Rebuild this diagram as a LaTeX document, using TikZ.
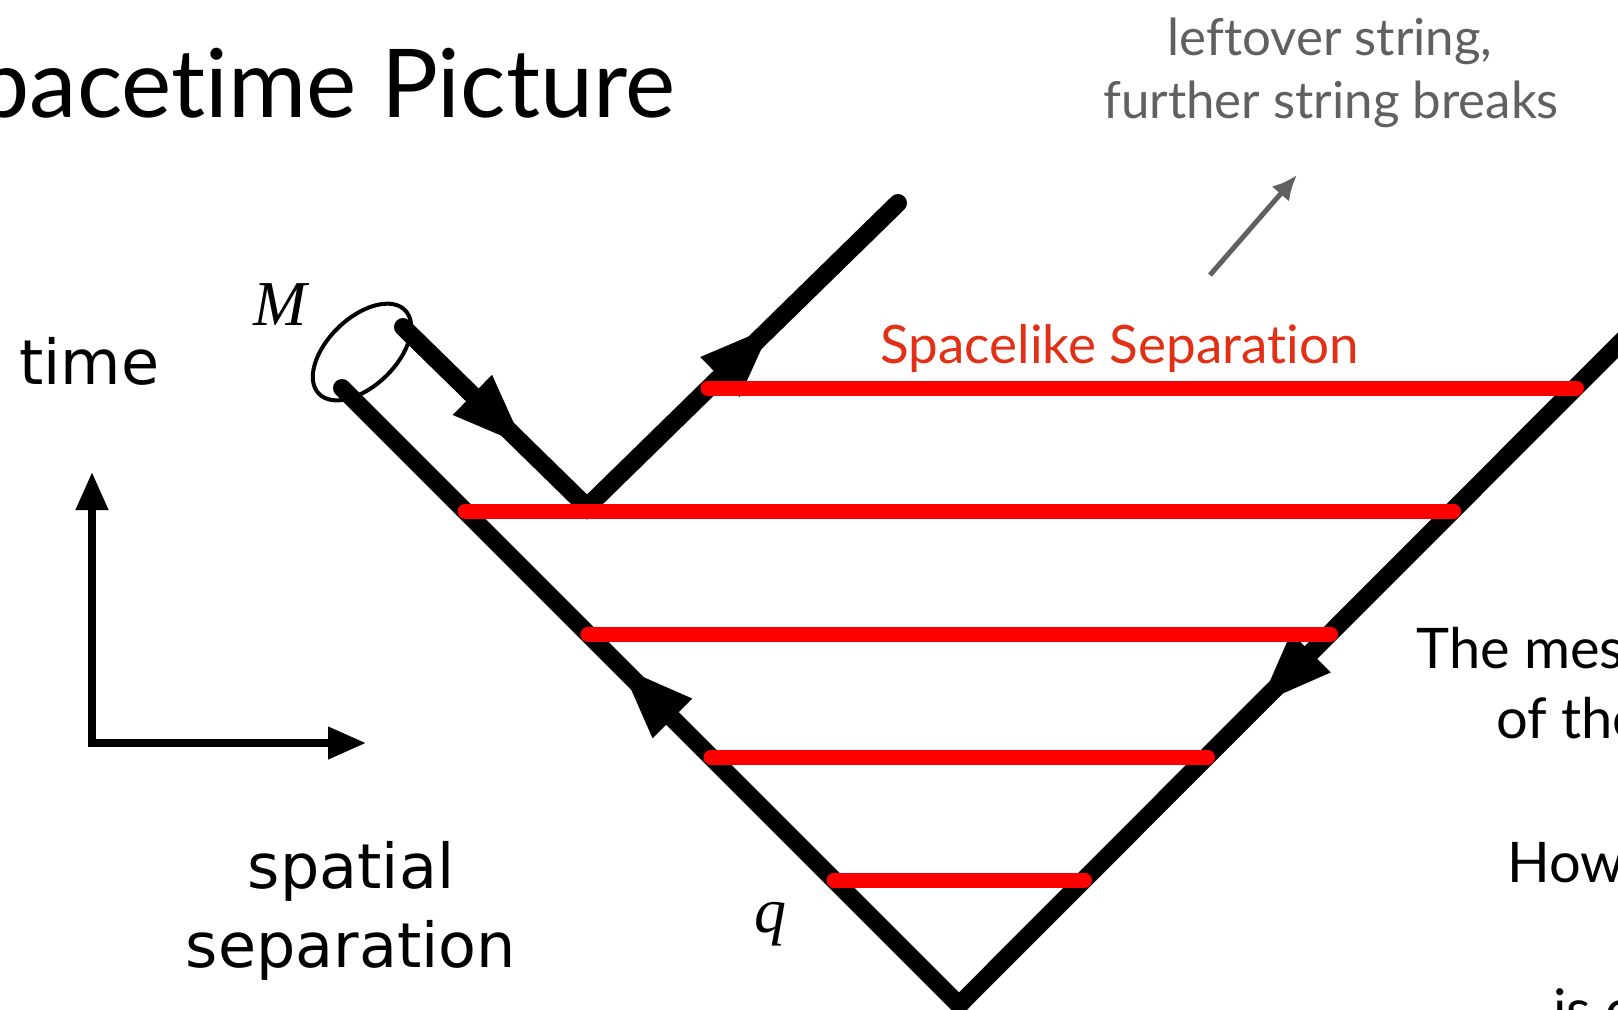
\documentclass[tikz,border=0pt]{standalone}
\usepackage{fontspec}
\setmainfont{Lato}[Ligatures=NoCommon]
\newfontfamily\axisfont{DejaVu Sans}
\newfontfamily\varfont{Liberation Serif}
\usetikzlibrary{arrows.meta,decorations.markings}
\definecolor{breakred}{RGB}{226,48,22}
\definecolor{notegray}{RGB}{96,96,96}

\begin{document}
\begin{tikzpicture}[x=0.5pt,y=-0.5pt,inner sep=0pt,
    worldline/.style={line width=9pt,line cap=round},
    slice/.style={line width=7.5pt,red,line cap=round},
    flow/.style 2 args={postaction={decorate},decoration={markings,
      mark=at position #1 with {\arrow{Triangle[length=38pt,width=25pt]}},
      mark=at position #2 with {\arrow{Triangle[length=38pt,width=25pt]}}}},
    axis/.style={line width=3.75pt,
      {Triangle[length=19pt,width=15.5pt]}-{Triangle[length=19pt,width=15.5pt]}},
    big/.style={font=\fontsize{47.5}{54}\selectfont},
    side/.style={font=\fontsize{28}{34}\selectfont,anchor=base west},
    note/.style={font=\fontsize{25.5}{29}\selectfont,align=center},
    axislabel/.style={font=\axisfont\fontsize{31}{39.5}\selectfont},
    var/.style={font=\varfont\itshape\fontsize{32}{38}\selectfont,anchor=base west}]
    \useasboundingbox (0,0) rectangle (1618,1009);
    \clip (0,0) rectangle (1618,1009);
    % light cone of the pair
    \coordinate (vtip) at (959,1005);
    \coordinate (rtop) at (1640,323);
    \coordinate (ltop) at (342,388);
    \coordinate (mtop) at (403,327);
    \coordinate (kink) at (587,507);
    \coordinate (otop) at (898,203);
    \coordinate (cup) at (362,352);
    \draw[worldline,flow={0.295}{0.787}] (rtop) -- (vtip) -- (ltop);
    \draw[worldline,flow={0.25}{0.75}] (mtop) -- (kink) -- (otop);
    \draw[line width=2pt,rotate around={44:(cup)}] (cup) ellipse [x radius=60,y radius=34];
    \foreach \y/\xa in {388/708,511/465,634/588,757/711,880/834}
      \draw[slice] (\xa,\y) -- ({1964.5-\y},\y);
    % axes
    \coordinate (tup) at (92,472);
    \coordinate (xright) at (366,743);
    \draw[axis] (tup) |- (xright);
    \node[axislabel,anchor=base west] (tlab) at (19,384) {time};
    \node[axislabel,anchor=base] (slab1) at (351,888) {spatial};
    \node[axislabel,anchor=base] (slab2) at (351,967) {separation};
    % labels
    \node[big,anchor=base east] (title) at (676,117) {pacetime Picture};
    \node[var] (mlab) at (253,325) {M};
    \node[var] (qlab) at (754,932) {q};
    \node[font=\fontsize{26.5}{32}\selectfont,text=breakred,anchor=base west] (sep) at (880,363) {Spacelike Separation};
    \node[note,text=notegray,anchor=base] (left1) at (1330,55) {leftover string,};
    \node[note,text=notegray,anchor=base] (left2) at (1331,118) {further string breaks};
    \coordinate (gfrom) at (1210,275);
    \coordinate (gto) at (1297,175);
    \draw[line width=2.5pt,notegray,-{Latex[length=12.5pt,width=11.5pt]}] (gfrom) -- (gto);
    \node[side] (r1) at (1416,668) {The mes};
    \node[side] (r2) at (1496,738) {of the};
    \node[side] (r3) at (1507,882) {How};
    \node[side] (r4) at (1553,1029) {is c};
  \end{tikzpicture}
\end{document}
